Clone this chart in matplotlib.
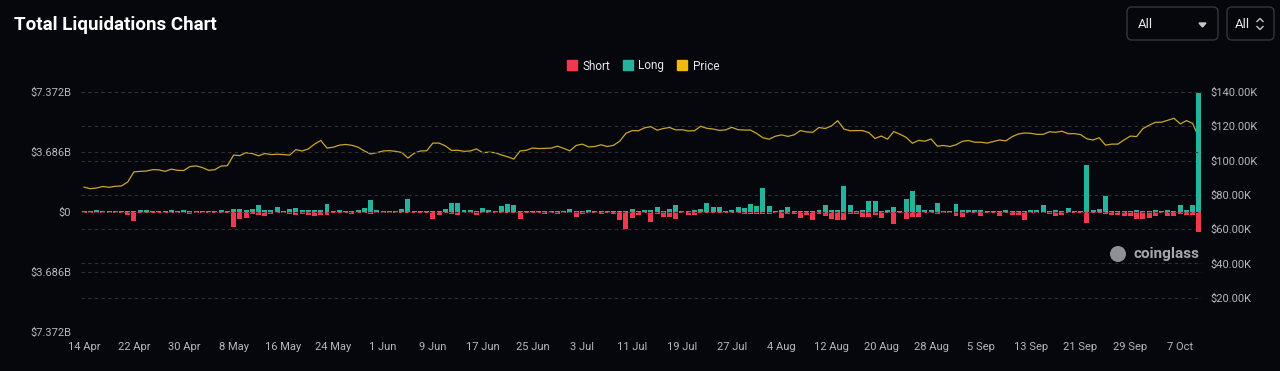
import numpy as np
import matplotlib
matplotlib.use('Agg')
import matplotlib.pyplot as plt
from matplotlib.patches import FancyBboxPatch, Circle
from matplotlib.lines import Line2D

plt.rcParams['font.family'] = ['Roboto', 'DejaVu Sans']

# daily values, 14 Apr .. 10 Oct (liquidations in $B, price in $K)
long_liq = [
    0.08, 0.06, 0.14, 0.05, 0.04, 0.05, 0.04, 0.05, 0.05, 0.12,
    0.10, 0.08, 0.05, 0.05, 0.10, 0.05, 0.14, 0.05, 0.05, 0.05,
    0.06, 0.05, 0.10, 0.08, 0.16, 0.20, 0.10, 0.17, 0.42, 0.10,
    0.13, 0.32, 0.08, 0.16, 0.26, 0.14, 0.10, 0.10, 0.10, 0.50,
    0.06, 0.10, 0.05, 0.06, 0.10, 0.23, 0.75, 0.12, 0.06, 0.06,
    0.06, 0.16, 0.80, 0.06, 0.06, 0.06, 0.06, 0.08, 0.16, 0.55,
    0.55, 0.10, 0.10, 0.06, 0.23, 0.10, 0.06, 0.38, 0.50, 0.46,
    0.06, 0.05, 0.06, 0.06, 0.05, 0.06, 0.05, 0.06, 0.16, 0.05,
    0.06, 0.12, 0.05, 0.05, 0.06, 0.05, 0.05, 0.05, 0.20, 0.08,
    0.10, 0.13, 0.30, 0.08, 0.20, 0.46, 0.06, 0.06, 0.12, 0.20,
    0.56, 0.30, 0.30, 0.06, 0.12, 0.30, 0.26, 0.50, 0.36, 1.48,
    0.34, 0.06, 0.10, 0.30, 0.06, 0.08, 0.08, 0.08, 0.13, 0.46,
    0.12, 0.12, 1.62, 0.40, 0.08, 0.10, 0.70, 0.70, 0.08, 0.10,
    0.30, 0.08, 0.80, 1.27, 0.40, 0.12, 0.15, 0.55, 0.06, 0.08,
    0.50, 0.10, 0.15, 0.15, 0.15, 0.04, 0.04, 0.06, 0.13, 0.06,
    0.06, 0.06, 0.10, 0.15, 0.40, 0.05, 0.13, 0.06, 0.23, 0.04,
    0.06, 2.90, 0.15, 0.18, 1.00, 0.06, 0.06, 0.06, 0.06, 0.15,
    0.06, 0.06, 0.13, 0.06, 0.10, 0.06, 0.40, 0.10, 0.46, 7.30,
]
short_liq = [
    0.04, 0.05, 0.04, 0.05, 0.05, 0.04, 0.08, 0.16, 0.58, 0.08,
    0.05, 0.08, 0.05, 0.04, 0.04, 0.04, 0.04, 0.10, 0.05, 0.04,
    0.05, 0.04, 0.05, 0.06, 0.90, 0.40, 0.36, 0.10, 0.20, 0.25,
    0.10, 0.06, 0.06, 0.10, 0.20, 0.14, 0.16, 0.25, 0.16, 0.16,
    0.05, 0.05, 0.08, 0.12, 0.06, 0.06, 0.10, 0.06, 0.06, 0.05,
    0.06, 0.06, 0.06, 0.05, 0.06, 0.08, 0.40, 0.20, 0.08, 0.10,
    0.20, 0.05, 0.06, 0.16, 0.06, 0.05, 0.05, 0.06, 0.06, 0.08,
    0.45, 0.08, 0.06, 0.06, 0.10, 0.05, 0.10, 0.05, 0.05, 0.32,
    0.12, 0.05, 0.05, 0.12, 0.05, 0.10, 0.52, 1.03, 0.36, 0.16,
    0.06, 0.62, 0.12, 0.30, 0.30, 0.42, 0.08, 0.20, 0.20, 0.08,
    0.08, 0.08, 0.08, 0.06, 0.06, 0.08, 0.10, 0.10, 0.10, 0.12,
    0.10, 0.06, 0.36, 0.10, 0.12, 0.36, 0.16, 0.48, 0.12, 0.24,
    0.42, 0.48, 0.48, 0.12, 0.10, 0.30, 0.30, 0.20, 0.35, 0.08,
    0.72, 0.08, 0.40, 0.30, 0.30, 0.08, 0.08, 0.10, 0.06, 0.06,
    0.27, 0.30, 0.06, 0.06, 0.27, 0.04, 0.06, 0.27, 0.08, 0.20,
    0.20, 0.52, 0.08, 0.08, 0.08, 0.14, 0.25, 0.20, 0.06, 0.04,
    0.06, 0.68, 0.08, 0.08, 0.10, 0.20, 0.20, 0.27, 0.27, 0.42,
    0.42, 0.35, 0.27, 0.06, 0.25, 0.27, 0.10, 0.20, 0.20, 1.23,
]
price = [
    # Apr 14-30
    84.5, 83.6, 84.0, 84.9, 84.4, 85.0, 85.2, 87.5, 93.4, 93.7,
    93.9, 94.7, 94.6, 93.7, 95.0, 94.3, 94.2,
    # May
    96.5, 96.9, 95.9, 94.3, 94.7, 96.8, 97.0, 103.2, 102.9, 104.6,
    104.1, 102.8, 104.1, 103.5, 103.7, 103.5, 103.2, 106.4, 105.6, 106.8,
    109.6, 111.7, 107.3, 107.8, 109.0, 109.4, 108.9, 107.8, 105.6, 103.9,
    104.6,
    # Jun
    105.6, 105.8, 105.4, 104.7, 101.5, 104.3, 105.6, 105.7, 110.2, 110.2,
    108.6, 105.9, 106.0, 105.4, 105.6, 106.8, 104.6, 104.9, 104.6, 103.3,
    102.2, 100.9, 105.6, 106.0, 107.3, 107.0, 107.1, 107.3, 108.4, 107.1,
    # Jul
    105.7, 108.8, 109.6, 108.0, 108.2, 109.2, 108.2, 108.9, 111.3, 115.9,
    117.5, 117.4, 119.1, 119.8, 117.7, 118.7, 119.3, 117.9, 118.0, 117.3,
    117.4, 120.0, 118.8, 118.4, 117.6, 117.9, 119.4, 118.0, 117.8, 117.8,
    115.8,
    # Aug
    113.3, 112.5, 114.2, 115.0, 114.1, 115.0, 117.5, 116.7, 116.5, 119.3,
    118.7, 120.2, 123.3, 118.4, 117.4, 117.5, 117.5, 116.3, 112.9, 114.3,
    112.5, 116.9, 115.4, 113.5, 110.1, 111.8, 111.3, 112.6, 108.4, 108.8,
    108.2,
    # Sep
    109.2, 111.2, 111.7, 110.7, 110.7, 110.2, 111.1, 112.0, 111.5, 113.9,
    115.5, 116.1, 115.9, 115.3, 115.3, 116.8, 116.5, 117.1, 115.7, 115.7,
    115.2, 112.7, 112.0, 113.3, 109.0, 109.6, 109.6, 112.1, 114.3, 114.0,
    # Oct 1-10
    118.6, 120.6, 122.3, 122.4, 123.5, 124.7, 121.4, 123.3, 121.7, 113.2,
]
tick_labels = ['14 Apr', '22 Apr', '30 Apr', '8 May', '16 May', '24 May',
               '1 Jun', '9 Jun', '17 Jun', '25 Jun', '3 Jul', '11 Jul',
               '19 Jul', '27 Jul', '4 Aug', '12 Aug', '20 Aug', '28 Aug',
               '5 Sep', '13 Sep', '21 Sep', '29 Sep', '7 Oct']
left_ticks = [-7.372, -3.686, 0, 3.686, 7.372]
left_labels = ['$7.372B', '$3.686B', '$0', '$3.686B', '$7.372B']
right_ticks = [20, 40, 60, 80, 100, 120, 140]
right_labels = ['$20.00K', '$40.00K', '$60.00K', '$80.00K',
                '$100.00K', '$120.00K', '$140.00K']

bg = '#06070d'
green = '#25b39e'
red = '#f0384f'
gold = '#c9a62c'
txt = '#b4b7bd'
gridc = '#2c2f37'

fig = plt.figure(figsize=(12.8, 3.71), dpi=100, facecolor=bg)
W, H = 1280, 371
ax = fig.add_axes([81 / W, 1 - 332 / H, 1121 / W, 240 / H])
ax2 = ax.twinx()
ax.set_zorder(ax2.get_zorder() + 1)
ax.patch.set_visible(False)
ax2.set_facecolor(bg)

x = np.arange(len(long_liq))
ax.bar(x, long_liq, width=0.8, color=green, linewidth=0)
ax.bar(x, [-v for v in short_liq], width=0.8, color=red, linewidth=0)
ax.set_xlim(-0.5, len(x) - 0.5)
ax.set_ylim(-7.372, 7.372)
ax.set_yticks(left_ticks)
ax.set_yticklabels(left_labels)
ax.set_xticks(np.arange(0, len(x), 8)[:len(tick_labels)])
ax.set_xticklabels(tick_labels)

ax2.plot(x, price, color=gold, lw=0.9)
ax2.set_ylim(0, 140)
ax2.set_yticks(right_ticks)
ax2.set_yticklabels(right_labels)

for a in (ax, ax2):
    for s in a.spines.values():
        s.set_visible(False)
    a.tick_params(length=0, colors=txt, labelsize=8)
    a.grid(axis='y', color=gridc, lw=0.8, ls=(0, (3, 3)))
ax.grid(axis='x', visible=False)
ax.tick_params(axis='y', pad=7)
ax.tick_params(axis='x', pad=7)
ax2.tick_params(axis='y', pad=6)
ax2.set_axisbelow(True)

fig.text(14 / W, 1 - 25 / H, 'Total Liquidations Chart', fontsize=13.5,
         weight='bold', color='white', va='center')

handles = [Line2D([], [], ls='none', marker='s', ms=7, mfc=red, mec=red),
           Line2D([], [], ls='none', marker='s', ms=7, mfc=green, mec=green),
           Line2D([], [], ls='none', marker='s', ms=7, mfc='#f0b90b', mec='#f0b90b')]
fig.legend(handles, ['Short', 'Long', 'Price'], loc='center',
           bbox_to_anchor=(643 / W, 1 - 66 / H), ncol=3, frameon=False,
           fontsize=8.5, labelcolor='#e8e8e8', handlelength=0.8,
           handletextpad=0.5, columnspacing=1.1)

# overlay in pixel units for the controls and watermark
oa = fig.add_axes([0, 0, 1, 1])
oa.set_xlim(0, W)
oa.set_ylim(H, 0)
oa.axis('off')
for bx, bw in [(1127, 91), (1227, 47)]:
    oa.add_patch(FancyBboxPatch((bx + 5, 12), bw - 10, 23,
                                boxstyle='round,pad=5', fc=bg, ec='#33363e', lw=1))
oa.text(1138, 24, 'All', color='#e8e8e8', fontsize=9.5, va='center')
oa.text(1235, 24, 'All', color='#e8e8e8', fontsize=9.5, va='center')
oa.fill([1199, 1206, 1202.5], [23, 23, 27], color='#c8c8c8')
oa.plot([1257, 1260, 1263], [21.5, 18.5, 21.5], color='#c8c8c8', lw=1)
oa.plot([1257, 1260, 1263], [26.5, 29.5, 26.5], color='#c8c8c8', lw=1)

oa.add_patch(Circle((1118, 254), 8, fc='#9da0a6', ec='none', alpha=0.9))
oa.text(1133, 254, 'coinglass', color='#a5a8ae', fontsize=11, weight='bold',
        va='center')

fig.savefig('out.png', dpi=100, facecolor=bg)
